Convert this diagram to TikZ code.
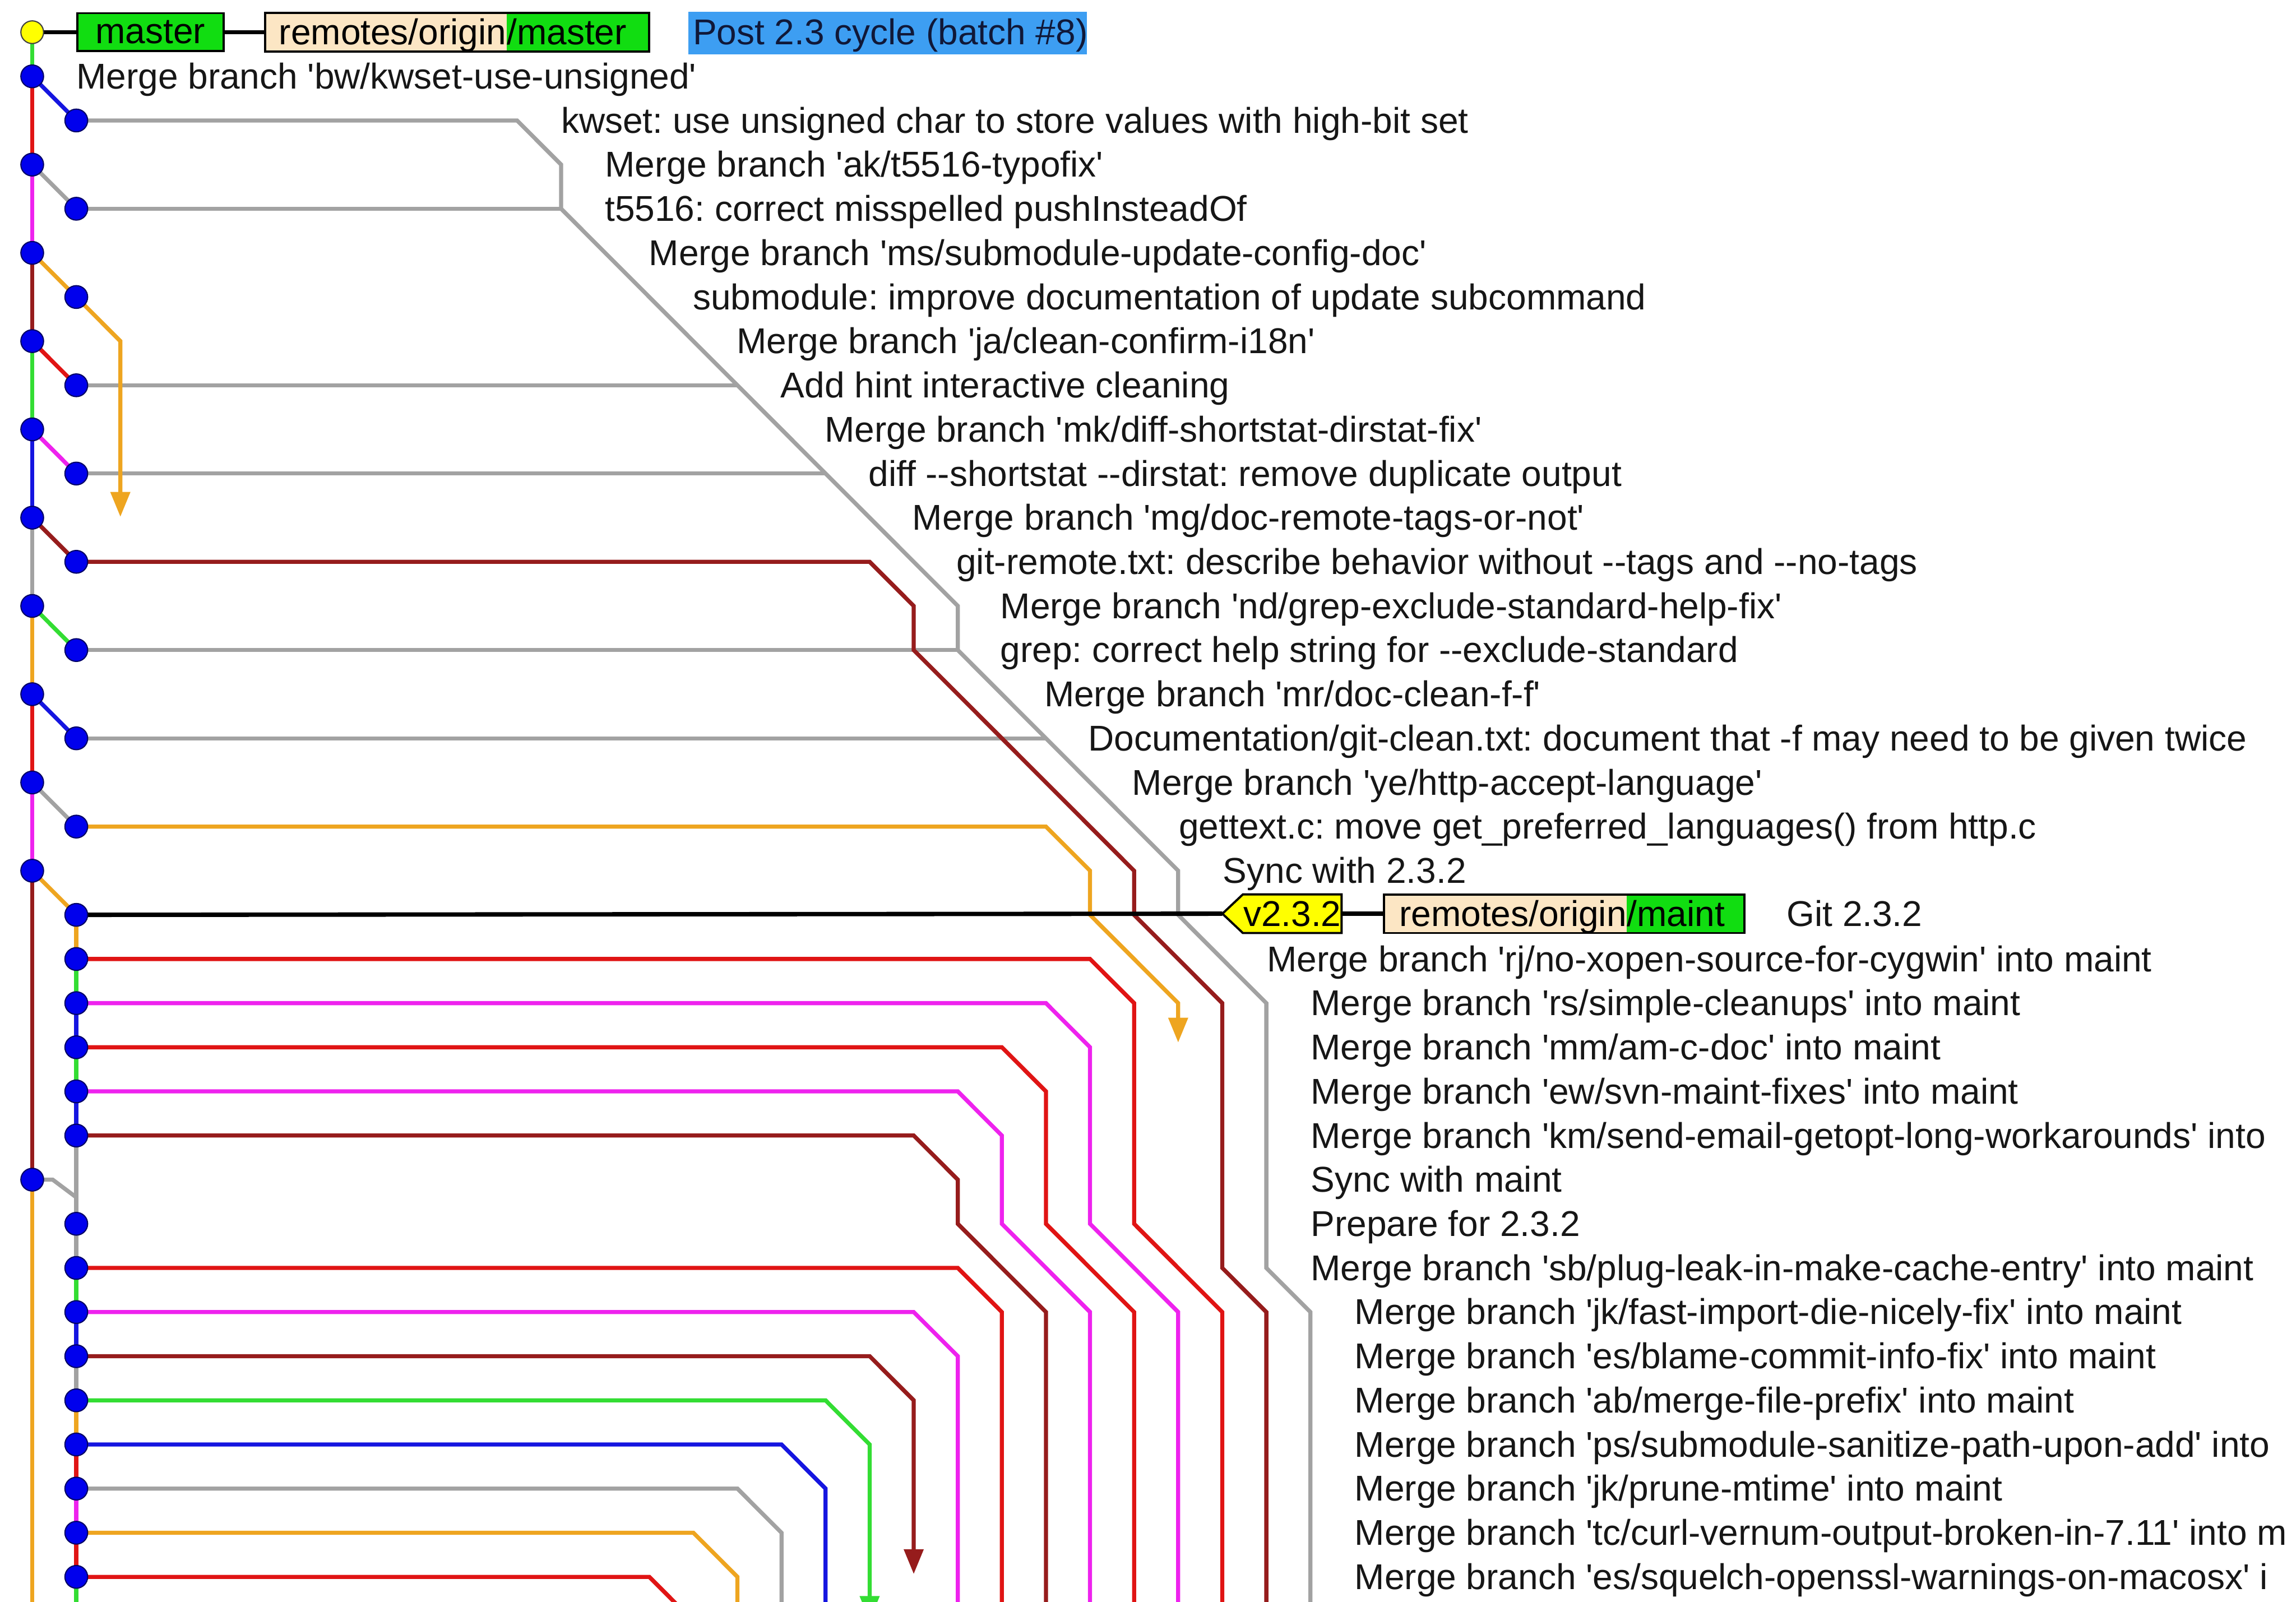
\documentclass[tikz,border=0pt]{standalone}
\usepackage{fontspec}
\newfontfamily\gitfont{Liberation Sans}
\usetikzlibrary{arrows.meta}
\definecolor{gGreen}{HTML}{33DD33}
\definecolor{gRed}{HTML}{E01414}
\definecolor{gBlue}{HTML}{1515E0}
\definecolor{gMag}{HTML}{EE22EE}
\definecolor{gGray}{HTML}{A2A2A2}
\definecolor{gBrown}{HTML}{961C1C}
\definecolor{gOrange}{HTML}{EEA520}
\definecolor{refGreen}{HTML}{11DD11}
\definecolor{refBeige}{HTML}{FCE6C4}
\definecolor{selBlue}{HTML}{3D9EF2}
\definecolor{tagYellow}{HTML}{FFFF00}
\definecolor{txt}{HTML}{161616}
\definecolor{navy}{HTML}{101838}
\pgfdeclarelayer{paper}
\pgfdeclarelayer{lines}
\pgfdeclarelayer{boxes}
\pgfsetlayers{paper,lines,boxes,main}
\begin{document}
\frenchspacing
\begin{tikzpicture}[x=1pt,y=-1pt,
  ln/.style={line width=2.8pt},
  reflink/.style={line width=3pt, black},
  endtip/.style={-{Triangle[length=17pt,width=13pt]}},
  commit/.style={circle, fill=blue!93!black, draw=blue!40!black, line width=0.8pt, minimum size=15.5pt, inner sep=0pt},
  head/.style={commit, fill=tagYellow, draw=black!75},
  msg/.style={anchor=base west, inner sep=0pt, font=\gitfont\fontsize{24.5}{28}\selectfont\frenchspacing, text=txt},
  reftext/.style={inner sep=0pt, font=\gitfont\fontsize{24.5}{28}\selectfont, text=black},
  boxframe/.style={line width=1.5pt, draw=black},
]
\useasboundingbox (0,0) rectangle (1568,1094);
\begin{pgfonlayer}{paper}
\fill[white] (0,0) rectangle (1568,1094);
\end{pgfonlayer}

% grid of lanes
\foreach \k in {0,...,30}{\foreach \i in {0,...,37}{\coordinate (g-\k-\i) at ({22+30.1*\k},{22+30.14*\i});}}
\coordinate (a6)  at (82.2,353);
\coordinate (a18) at (804.6,712);
\coordinate (a30) at (624,1075);
\coordinate (a31) at (593.9,1107);

% commits
\node[head] (c0) at (g-0-0) {};
\foreach \i in {1,3,5,7,9,11,13,15,17,19,26} \node[commit] (c\i) at (g-0-\i) {};
\foreach \i in {2,4,6,8,10,12,14,16,18,20,21,22,23,24,25,27,28,29,30,31,32,33,34,35} \node[commit] (c\i) at (g-1-\i) {};

% row 0 refs
\node[reftext, fill=refGreen, draw=black, line width=1.5pt, minimum width=100pt, minimum height=26pt, anchor=west] (mb) at (52,22) {master};
\node[minimum width=262pt, minimum height=26pt, inner sep=0pt, anchor=west] (rm) at (181,22) {};
\node[reftext, anchor=base east] (rmA) at (346,30.5) {remotes/origin};
\node[reftext, anchor=base west] (rmB) at (346,30.5) {/master};
\node[fill=selBlue, minimum width=272pt, minimum height=29pt, inner sep=0pt, anchor=west] (sel) at (470,22.5) {};
\node[msg, text=navy] (t0) at (473,30.5) {Post 2.3 cycle (batch \#8)};

% row 20 refs
\node[minimum width=67pt, minimum height=26pt, inner sep=0pt] (tg) at (882.5,624) {};
\node[reftext, anchor=base] (tgt) at (882.5,632.5) {v2.3.2};
\node[minimum width=246pt, minimum height=26pt, inner sep=0pt, anchor=west] (rm2) at (945,624) {};
\node[reftext, anchor=base east] (rm2A) at (1111,632.5) {remotes/origin};
\node[reftext, anchor=base west] (rm2B) at (1111,632.5) {/maint};
\node[msg] (t20) at (1220,632.5) {Git 2.3.2};

\begin{pgfonlayer}{boxes}
\fill[refBeige] (rm.north west) rectangle ([xshift=165pt]rm.south west);
\fill[refGreen] ([xshift=165pt]rm.north west) rectangle (rm.south east);
\draw[boxframe] (rm.north west) rectangle (rm.south east);
\filldraw[boxframe, fill=tagYellow] (tg.north east) -- (tg.north west) -- ([xshift=-14pt]tg.west) -- (tg.south west) -- (tg.south east) -- cycle;
\fill[refBeige] (rm2.north west) rectangle ([xshift=166pt]rm2.south west);
\fill[refGreen] ([xshift=166pt]rm2.north west) rectangle (rm2.south east);
\draw[boxframe] (rm2.north west) rectangle (rm2.south east);
\end{pgfonlayer}

% messages
\newcommand\gitmsg[3]{\node[msg] (t#1) at ({#2},{30.5+30.14*#1}) {#3};}
\gitmsg{1}{52}{Merge branch 'bw/kwset-use-unsigned'}
\gitmsg{2}{383}{kwset: use unsigned char to store values with high-bit set}
\gitmsg{3}{413}{Merge branch 'ak/t5516-typofix'}
\gitmsg{4}{413}{t5516: correct misspelled pushInsteadOf}
\gitmsg{5}{443}{Merge branch 'ms/submodule-update-config-doc'}
\gitmsg{6}{473}{submodule: improve documentation of update subcommand}
\gitmsg{7}{503}{Merge branch 'ja/clean-confirm-i18n'}
\gitmsg{8}{533}{Add hint interactive cleaning}
\gitmsg{9}{563}{Merge branch 'mk/diff-shortstat-dirstat-fix'}
\gitmsg{10}{593}{diff --shortstat --dirstat: remove duplicate output}
\gitmsg{11}{623}{Merge branch 'mg/doc-remote-tags-or-not'}
\gitmsg{12}{653}{git-remote.txt: describe behavior without --tags and --no-tags}
\gitmsg{13}{683}{Merge branch 'nd/grep-exclude-standard-help-fix'}
\gitmsg{14}{683}{grep: correct help string for --exclude-standard}
\gitmsg{15}{713}{Merge branch 'mr/doc-clean-f-f'}
\gitmsg{16}{743}{Documentation/git-clean.txt: document that -f may need to be given twice}
\gitmsg{17}{773}{Merge branch 'ye/http-accept-language'}
\gitmsg{18}{805}{gettext.c: move get\_preferred\_languages() from http.c}
\gitmsg{19}{835}{Sync with 2.3.2}
\gitmsg{21}{865}{Merge branch 'rj/no-xopen-source-for-cygwin' into maint}
\gitmsg{22}{895}{Merge branch 'rs/simple-cleanups' into maint}
\gitmsg{23}{895}{Merge branch 'mm/am-c-doc' into maint}
\gitmsg{24}{895}{Merge branch 'ew/svn-maint-fixes' into maint}
\gitmsg{25}{895}{Merge branch 'km/send-email-getopt-long-workarounds' into}
\gitmsg{26}{895}{Sync with maint}
\gitmsg{27}{895}{Prepare for 2.3.2}
\gitmsg{28}{895}{Merge branch 'sb/plug-leak-in-make-cache-entry' into maint}
\gitmsg{29}{925}{Merge branch 'jk/fast-import-die-nicely-fix' into maint}
\gitmsg{30}{925}{Merge branch 'es/blame-commit-info-fix' into maint}
\gitmsg{31}{925}{Merge branch 'ab/merge-file-prefix' into maint}
\gitmsg{32}{925}{Merge branch 'ps/submodule-sanitize-path-upon-add' into}
\gitmsg{33}{925}{Merge branch 'jk/prune-mtime' into maint}
\gitmsg{34}{925}{Merge branch 'tc/curl-vernum-output-broken-in-7.11' into m}
\gitmsg{35}{925}{Merge branch 'es/squelch-openssl-warnings-on-macosx' i}

\begin{pgfonlayer}{lines}
% first-parent lane
\foreach \a/\b/\lc in {0/1/gGreen,1/3/gRed,3/5/gMag,5/7/gBrown,7/9/gGreen,9/11/gBlue,11/13/gGray,13/15/gOrange,15/17/gRed,17/19/gMag,19/26/gBrown}
  \draw[ln,\lc] (c\a.center) -- (c\b.center);
\draw[ln,gOrange] (c26.center) -- (g-0-37);
% merges into second lane
\foreach \a/\b/\lc in {1/2/gBlue,3/4/gGray,5/6/gOrange,7/8/gRed,9/10/gMag,11/12/gBrown,13/14/gGreen,15/16/gBlue,17/18/gGray,19/20/gOrange}
  \draw[ln,\lc] (c\a.center) -- (c\b.center);
% second lane
\foreach \a/\b/\lc in {20/21/gOrange,21/22/gGreen,22/23/gBlue,23/24/gGreen,24/25/gBlue,25/27/gGray,27/28/gGray,28/29/gGreen,29/30/gBlue,30/31/gGray,31/32/gOrange,32/33/gRed,33/34/gMag,34/35/gRed}
  \draw[ln,\lc] (c\a.center) -- (c\b.center);
\draw[ln,gGreen] (c35.center) -- (g-1-37);
\draw[ln,gGray] (c26.center) -- ++(14,0) -- ++(16,12);
% long branch lines
\draw[ln,gGray] (c2.center) -- (g-11-2) -- (g-12-3) -- (g-12-4) -- (g-21-13) -- (g-21-14) -- (g-26-19) -- (g-26-20) -- (g-28-22) -- (g-28-28) -- (g-29-29) -- (g-29-37);
\draw[ln,gGray] (c4.center) -- (g-12-4);
\draw[ln,gGray] (c8.center) -- (g-16-8);
\draw[ln,gGray] (c10.center) -- (g-18-10);
\draw[ln,gGray] (c14.center) -- (g-21-14);
\draw[ln,gGray] (c16.center) -- (g-23-16);
\draw[ln,gBrown] (c12.center) -- (g-19-12) -- (g-20-13) -- (g-20-14) -- (g-25-19) -- (g-25-20) -- (g-27-22) -- (g-27-28) -- (g-28-29) -- (g-28-37);
\draw[ln,gOrange,endtip] (c6.center) -- (g-2-7) -- (a6);
\draw[ln,gOrange,endtip] (c18.center) -- (g-23-18) -- (g-24-19) -- (g-24-20) -- (g-26-22) -- (a18);
\draw[ln,gRed] (c21.center) -- (g-24-21) -- (g-25-22) -- (g-25-27) -- (g-27-29) -- (g-27-37);
\draw[ln,gMag] (c22.center) -- (g-23-22) -- (g-24-23) -- (g-24-27) -- (g-26-29) -- (g-26-37);
\draw[ln,gRed] (c23.center) -- (g-22-23) -- (g-23-24) -- (g-23-27) -- (g-25-29) -- (g-25-37);
\draw[ln,gMag] (c24.center) -- (g-21-24) -- (g-22-25) -- (g-22-27) -- (g-24-29) -- (g-24-37);
\draw[ln,gBrown] (c25.center) -- (g-20-25) -- (g-21-26) -- (g-21-27) -- (g-23-29) -- (g-23-37);
\draw[ln,gRed] (c28.center) -- (g-21-28) -- (g-22-29) -- (g-22-37);
\draw[ln,gMag] (c29.center) -- (g-20-29) -- (g-21-30) -- (g-21-37);
\draw[ln,gBrown,endtip] (c30.center) -- (g-19-30) -- (g-20-31) -- (a30);
\draw[ln,gGreen,endtip] (c31.center) -- (g-18-31) -- (g-19-32) -- (a31);
\draw[ln,gBlue] (c32.center) -- (g-17-32) -- (g-18-33) -- (g-18-37);
\draw[ln,gGray] (c33.center) -- (g-16-33) -- (g-17-34) -- (g-17-37);
\draw[ln,gOrange] (c34.center) -- (g-15-34) -- (g-16-35) -- (g-16-37);
\draw[ln,gRed] (c35.center) -- (g-14-35) -- (g-15-36) -- (g-15-37);
% ref connectors
\draw[reflink] (c0.center) -- (mb.west);
\draw[reflink] (mb.east) -- (rm.west);
\draw[reflink] (c20.center) -- ([xshift=-14pt]tg.west);
\draw[reflink] (tg.east) -- (rm2.west);
\end{pgfonlayer}
\end{tikzpicture}
\end{document}
